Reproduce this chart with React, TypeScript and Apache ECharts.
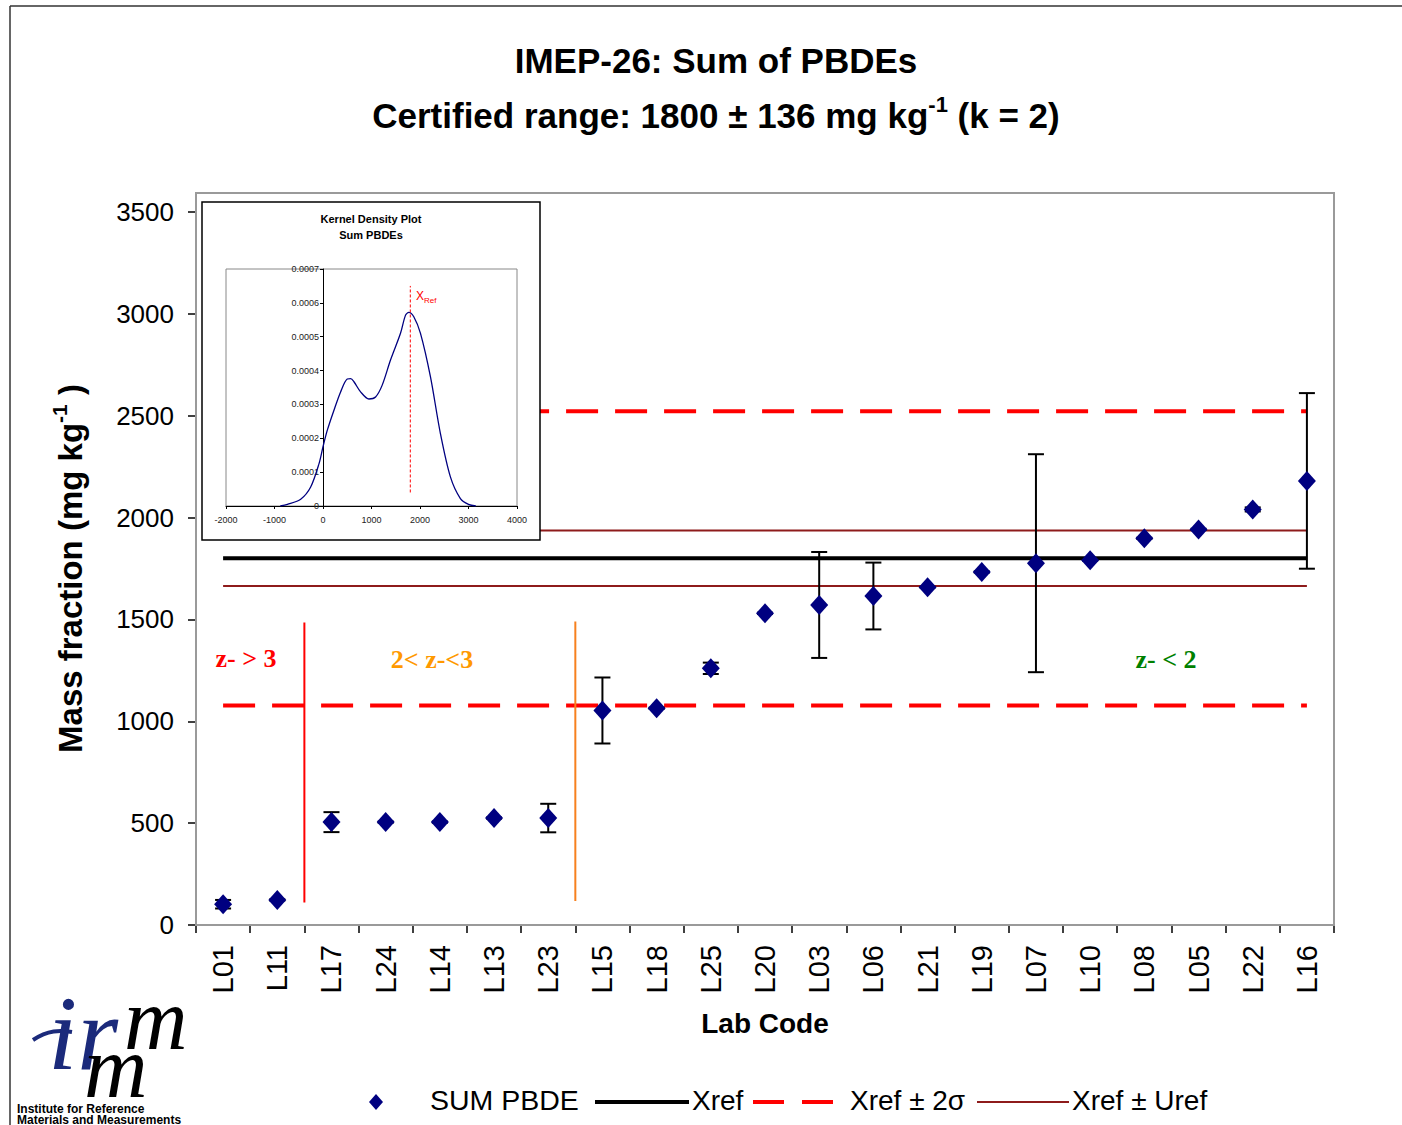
import React, { useEffect, useRef } from "react";
import * as echarts from "echarts";

const LABS = ["L01","L11","L17","L24","L14","L13","L23","L15","L18","L25","L20","L03","L06","L21","L19","L07","L10","L08","L05","L22","L16"];
const VALUES = [102,123,505,505,505,525,525,1053,1064,1260,1530,1571,1615,1658,1733,1776,1790,1898,1942,2040,2180];
const UNCERT = [21,3,49,3,3,3,70,162,3,28,3,260,164,2,3,535,2,3,3,10,431];

const XREF = 1800;
const UREF = 136;
const TWO_SIGMA = 722;

const Y_TICKS_MIN = 0;
const Y_TICKS_MAX = 3500;
const Y_TICKS_STEP = 500;

// zone separators (position between categories, y range)
const ZONE_LINES = [
  { x: 1.5, y0: 110, y1: 1485, color: "#FF0000" },
  { x: 6.5, y0: 118, y1: 1490, color: "#F7801E" },
];

// Kernel density inset
const KDE_X = [-880,-734,-460,-254,-82,0,89,226,363,500,570,638,775,947,1084,1221,1392,1598,1700,1770,1872,2010,2215,2421,2627,2833,3000,3150];
const KDE_Y = [0,0.000005,0.00002,0.000056,0.000125,0.000175,0.000224,0.000283,0.000337,0.000375,0.000376,0.000367,0.000337,0.000316,0.000322,0.000357,0.000431,0.00051,0.000563,0.000572,0.000559,0.00051,0.000382,0.000214,0.000086,0.000022,0.000005,0];
const KDE_REF_Y = [0.00004, 0.00065];
const KDE_X_MIN = -2000;
const KDE_X_MAX = 4000;

const FONT = "'Liberation Sans', Arial, Helvetica, sans-serif";
const SERIF = "'Liberation Serif', 'Times New Roman', serif";
const NAVY = "#000080";
const BROWN = "#8E1B1B";
const LOGO_BLUE = "#1B2A7B";

function txt(x: number, y: number, text: string, opts: any = {}) {
  const { align = "left", vAlign = "middle", font, fill = "#000", z = 20, rich, lineHeight, ...rest } = opts;
  return {
    type: "text",
    z,
    ...rest,
    style: {
      x, y, text, fill, font,
      align, verticalAlign: vAlign,
      textAlign: align, textVerticalAlign: vAlign,
      rich, lineHeight,
    },
  };
}

export default function App() {
  const ref = useRef<HTMLDivElement>(null);

  useEffect(() => {
    if (!ref.current) return;
    const chart = echarts.init(ref.current, undefined, { renderer: "svg" });

    const errData = LABS.map((_, i) => [i, VALUES[i] - UNCERT[i], VALUES[i] + UNCERT[i]]);
    const first = LABS[0];
    const last = LABS[LABS.length - 1];

    const hLine = (y: number, color: string, width: number, type: any, z = 2) => ({
      type: "line",
      xAxisIndex: 0,
      yAxisIndex: 0,
      data: [[first, y], [last, y]],
      symbol: "none",
      silent: true,
      z,
      lineStyle: { color, width, type },
    });

    // inset grid geometry
    const IN_LEFT = 226, IN_W = 291;
    const zeroOffset = -(IN_W * (0 - KDE_X_MIN)) / (KDE_X_MAX - KDE_X_MIN);

    const graphics: any[] = [
      // outer border
      { type: "line", z: 1, shape: { x1: 10, y1: 6, x2: 1402, y2: 6 }, style: { stroke: "#333", lineWidth: 1.5 } },
      { type: "line", z: 1, shape: { x1: 10, y1: 6, x2: 10, y2: 1125 }, style: { stroke: "#333", lineWidth: 1.5 } },
      // plot frame
      { type: "rect", z: 1, shape: { x: 196, y: 193, width: 1138, height: 732 }, style: { fill: "none", stroke: "#9a9a9a", lineWidth: 2 } },
      // titles
      txt(716, 60, "IMEP-26: Sum of PBDEs", { align: "center", font: `bold 35px ${FONT}` }),
      txt(716, 115, "{a|Certified range: 1800 ± 136 mg kg}{s|-1}{a| (k = 2)}", {
        align: "center",
        font: `bold 35px ${FONT}`,
        rich: {
          a: { fontSize: 35, fontWeight: "bold", fontFamily: FONT, lineHeight: 44, fill: "#000" },
          s: { fontSize: 22, fontWeight: "bold", fontFamily: FONT, lineHeight: 24, verticalAlign: "top", fill: "#000" },
        },
      }),
      // zone annotations
      txt(246, 658, "z- > 3", { align: "center", font: `bold 26px ${SERIF}`, fill: "#FF0000", z: 5 }),
      txt(432, 659, "2< z-<3", { align: "center", font: `bold 26px ${SERIF}`, fill: "#FF9900", z: 5 }),
      txt(1166, 659, "z- < 2", { align: "center", font: `bold 26px ${SERIF}`, fill: "#008000", z: 5 }),
      // inset box
      { type: "rect", z: 10, shape: { x: 202, y: 202, width: 338, height: 338 }, style: { fill: "#fff", stroke: "#000", lineWidth: 1.5 } },
      txt(371, 219, "Kernel Density Plot", { align: "center", font: `bold 11px ${FONT}`, z: 13 }),
      txt(371, 235, "Sum PBDEs", { align: "center", font: `bold 11px ${FONT}`, z: 13 }),
      txt(416, 296, "{x|X}{r|Ref}", {
        font: `12px ${FONT}`,
        fill: "#FF0000",
        z: 13,
        rich: {
          x: { fontSize: 12, fontFamily: FONT, fill: "#FF0000", lineHeight: 16 },
          r: { fontSize: 8, fontFamily: FONT, fill: "#FF0000", lineHeight: 9, verticalAlign: "bottom" },
        },
      }),
      // legend
      { type: "polygon", z: 20, shape: { points: [[376, 1094], [383, 1102], [376, 1110], [369, 1102]] }, style: { fill: NAVY } },
      txt(430, 1100, "SUM PBDE", { font: `28.5px ${FONT}` }),
      { type: "line", z: 20, shape: { x1: 595, y1: 1102, x2: 689, y2: 1102 }, style: { stroke: "#000", lineWidth: 4 } },
      txt(692, 1100, "Xref", { font: `28px ${FONT}` }),
      { type: "line", z: 20, shape: { x1: 753, y1: 1102, x2: 784, y2: 1102 }, style: { stroke: "#FF0000", lineWidth: 4 } },
      { type: "line", z: 20, shape: { x1: 802, y1: 1102, x2: 833, y2: 1102 }, style: { stroke: "#FF0000", lineWidth: 4 } },
      txt(850, 1100, "Xref ± 2σ", { font: `28px ${FONT}` }),
      { type: "line", z: 20, shape: { x1: 977, y1: 1102, x2: 1069, y2: 1102 }, style: { stroke: BROWN, lineWidth: 2 } },
      txt(1072, 1100, "Xref ± Uref", { font: `28px ${FONT}` }),
      // logo
      { type: "bezierCurve", z: 20, shape: { x1: 33, y1: 1040, x2: 72, y2: 1032, cpx1: 48, cpy1: 1030, cpx2: 60, cpy2: 1030 }, style: { stroke: LOGO_BLUE, lineWidth: 4, fill: "none" } },
      txt(48, 1086, "ir", { vAlign: "bottom", font: `italic 105px ${SERIF}`, fill: LOGO_BLUE }),
      txt(124, 1063, "m", { vAlign: "bottom", font: `italic 88px ${SERIF}`, fill: "#000" }),
      txt(84, 1111, "m", { vAlign: "bottom", font: `italic 88px ${SERIF}`, fill: "#000" }),
      txt(17, 1103, "Institute for Reference\nMaterials and Measurements", { vAlign: "top", font: `bold 12px ${FONT}`, lineHeight: 11 }),
    ];

    const option: any = {
      animation: false,
      backgroundColor: "#fff",
      grid: [
        { left: 196, top: 212, width: 1138, height: 713, show: false, containLabel: false },
        { left: IN_LEFT, top: 269, width: IN_W, height: 237, show: true, borderColor: "#888", borderWidth: 1, backgroundColor: "rgba(0,0,0,0)", z: 11 },
      ],
      xAxis: [
        {
          type: "category",
          gridIndex: 0,
          data: LABS,
          boundaryGap: true,
          axisLine: { show: true, onZero: false, lineStyle: { color: "#000", width: 2 } },
          axisTick: { show: true, length: 8, interval: 0, lineStyle: { color: "#000", width: 1.5 } },
          axisLabel: { interval: 0, rotate: 90, fontSize: 29, color: "#000", fontFamily: FONT, margin: 20 },
          splitLine: { show: false },
          name: "Lab Code",
          nameLocation: "middle",
          nameGap: 84,
          nameTextStyle: { fontSize: 28, fontWeight: "bold", color: "#000", fontFamily: FONT },
        },
        { type: "value", gridIndex: 0, min: -0.5, max: LABS.length - 0.5, show: false },
        {
          type: "value",
          gridIndex: 1,
          min: KDE_X_MIN,
          max: KDE_X_MAX,
          interval: 1000,
          z: 12,
          axisLine: { show: true, onZero: false, lineStyle: { color: "#000", width: 1 } },
          axisTick: { show: true, length: 3, lineStyle: { color: "#000" } },
          axisLabel: { fontSize: 9, color: "#222", fontFamily: FONT, margin: 9, formatter: (v: number) => String(v) },
          splitLine: { show: false },
        },
      ],
      yAxis: [
        {
          type: "value",
          gridIndex: 0,
          min: Y_TICKS_MIN,
          max: Y_TICKS_MAX,
          interval: Y_TICKS_STEP,
          axisLine: { show: true, onZero: false, lineStyle: { color: "#000", width: 2 } },
          axisTick: { show: true, length: 8, lineStyle: { color: "#000", width: 1.5 } },
          axisLabel: { fontSize: 26, color: "#000", fontFamily: FONT, margin: 22, formatter: (v: number) => String(v) },
          splitLine: { show: false },
          name: "{a|Mass fraction (mg kg}{s|-1}{a| )}",
          nameLocation: "middle",
          nameRotate: 90,
          nameGap: 105,
          nameTextStyle: {
            rich: {
              a: { fontSize: 33, fontWeight: "bold", color: "#000", fontFamily: FONT, lineHeight: 42 },
              s: { fontSize: 21, fontWeight: "bold", color: "#000", fontFamily: FONT, lineHeight: 22, verticalAlign: "top" },
            },
          },
        },
        {
          type: "value",
          gridIndex: 1,
          min: 0,
          max: 0.0007,
          interval: 0.0001,
          z: 12,
          offset: zeroOffset,
          axisLine: { show: true, onZero: false, lineStyle: { color: "#000", width: 1 } },
          axisTick: { show: true, length: 3, lineStyle: { color: "#000" } },
          axisLabel: {
            fontSize: 9,
            color: "#222",
            fontFamily: FONT,
            margin: 4,
            formatter: (v: number) => (v === 0 ? "0" : v.toFixed(4)),
          },
          splitLine: { show: false },
        },
      ],
      graphic: { elements: graphics },
      series: [
        hLine(XREF + TWO_SIGMA, "#FF0000", 4, [32, 17]),
        hLine(XREF - TWO_SIGMA, "#FF0000", 4, [32, 17]),
        hLine(XREF + UREF, BROWN, 2, "solid"),
        hLine(XREF - UREF, BROWN, 2, "solid"),
        hLine(XREF, "#000", 4, "solid"),
        ...ZONE_LINES.map((l) => ({
          type: "line",
          xAxisIndex: 1,
          yAxisIndex: 0,
          data: [[l.x, l.y0], [l.x, l.y1]],
          symbol: "none",
          silent: true,
          z: 2,
          lineStyle: { color: l.color, width: 2 },
        })),
        {
          type: "custom",
          name: "error",
          xAxisIndex: 0,
          yAxisIndex: 0,
          z: 3,
          silent: true,
          data: errData,
          encode: { x: 0, y: [1, 2] },
          renderItem: (params: any, api: any) => {
            const i = api.value(0);
            const lo = api.coord([i, api.value(1)]);
            const hi = api.coord([i, api.value(2)]);
            const x = lo[0];
            const hw = 8;
            const st = { stroke: "#000", lineWidth: 2 };
            return {
              type: "group",
              children: [
                { type: "line", shape: { x1: x, y1: lo[1], x2: x, y2: hi[1] }, style: st },
                { type: "line", shape: { x1: x - hw, y1: lo[1], x2: x + hw, y2: lo[1] }, style: st },
                { type: "line", shape: { x1: x - hw, y1: hi[1], x2: x + hw, y2: hi[1] }, style: st },
              ],
            };
          },
        },
        {
          type: "scatter",
          name: "SUM PBDE",
          xAxisIndex: 0,
          yAxisIndex: 0,
          z: 4,
          data: VALUES,
          symbol: "diamond",
          symbolSize: [18, 20],
          itemStyle: { color: NAVY, opacity: 1 },
        },
        {
          type: "line",
          xAxisIndex: 2,
          yAxisIndex: 1,
          z: 12,
          data: KDE_X.map((x, i) => [x, KDE_Y[i]]),
          symbol: "none",
          smooth: 0.3,
          silent: true,
          lineStyle: { color: NAVY, width: 1.3 },
        },
        {
          type: "line",
          xAxisIndex: 2,
          yAxisIndex: 1,
          z: 12,
          data: [[XREF, KDE_REF_Y[0]], [XREF, KDE_REF_Y[1]]],
          symbol: "none",
          silent: true,
          lineStyle: { color: "#FF0000", width: 1, type: [3, 2] },
        },
      ],
    };

    chart.setOption(option);
    return () => chart.dispose();
  }, []);

  return (
    <div
      ref={ref}
      style={{ position: "fixed", left: 0, top: 0, width: 1402, height: 1125, background: "#fff" }}
    />
  );
}
